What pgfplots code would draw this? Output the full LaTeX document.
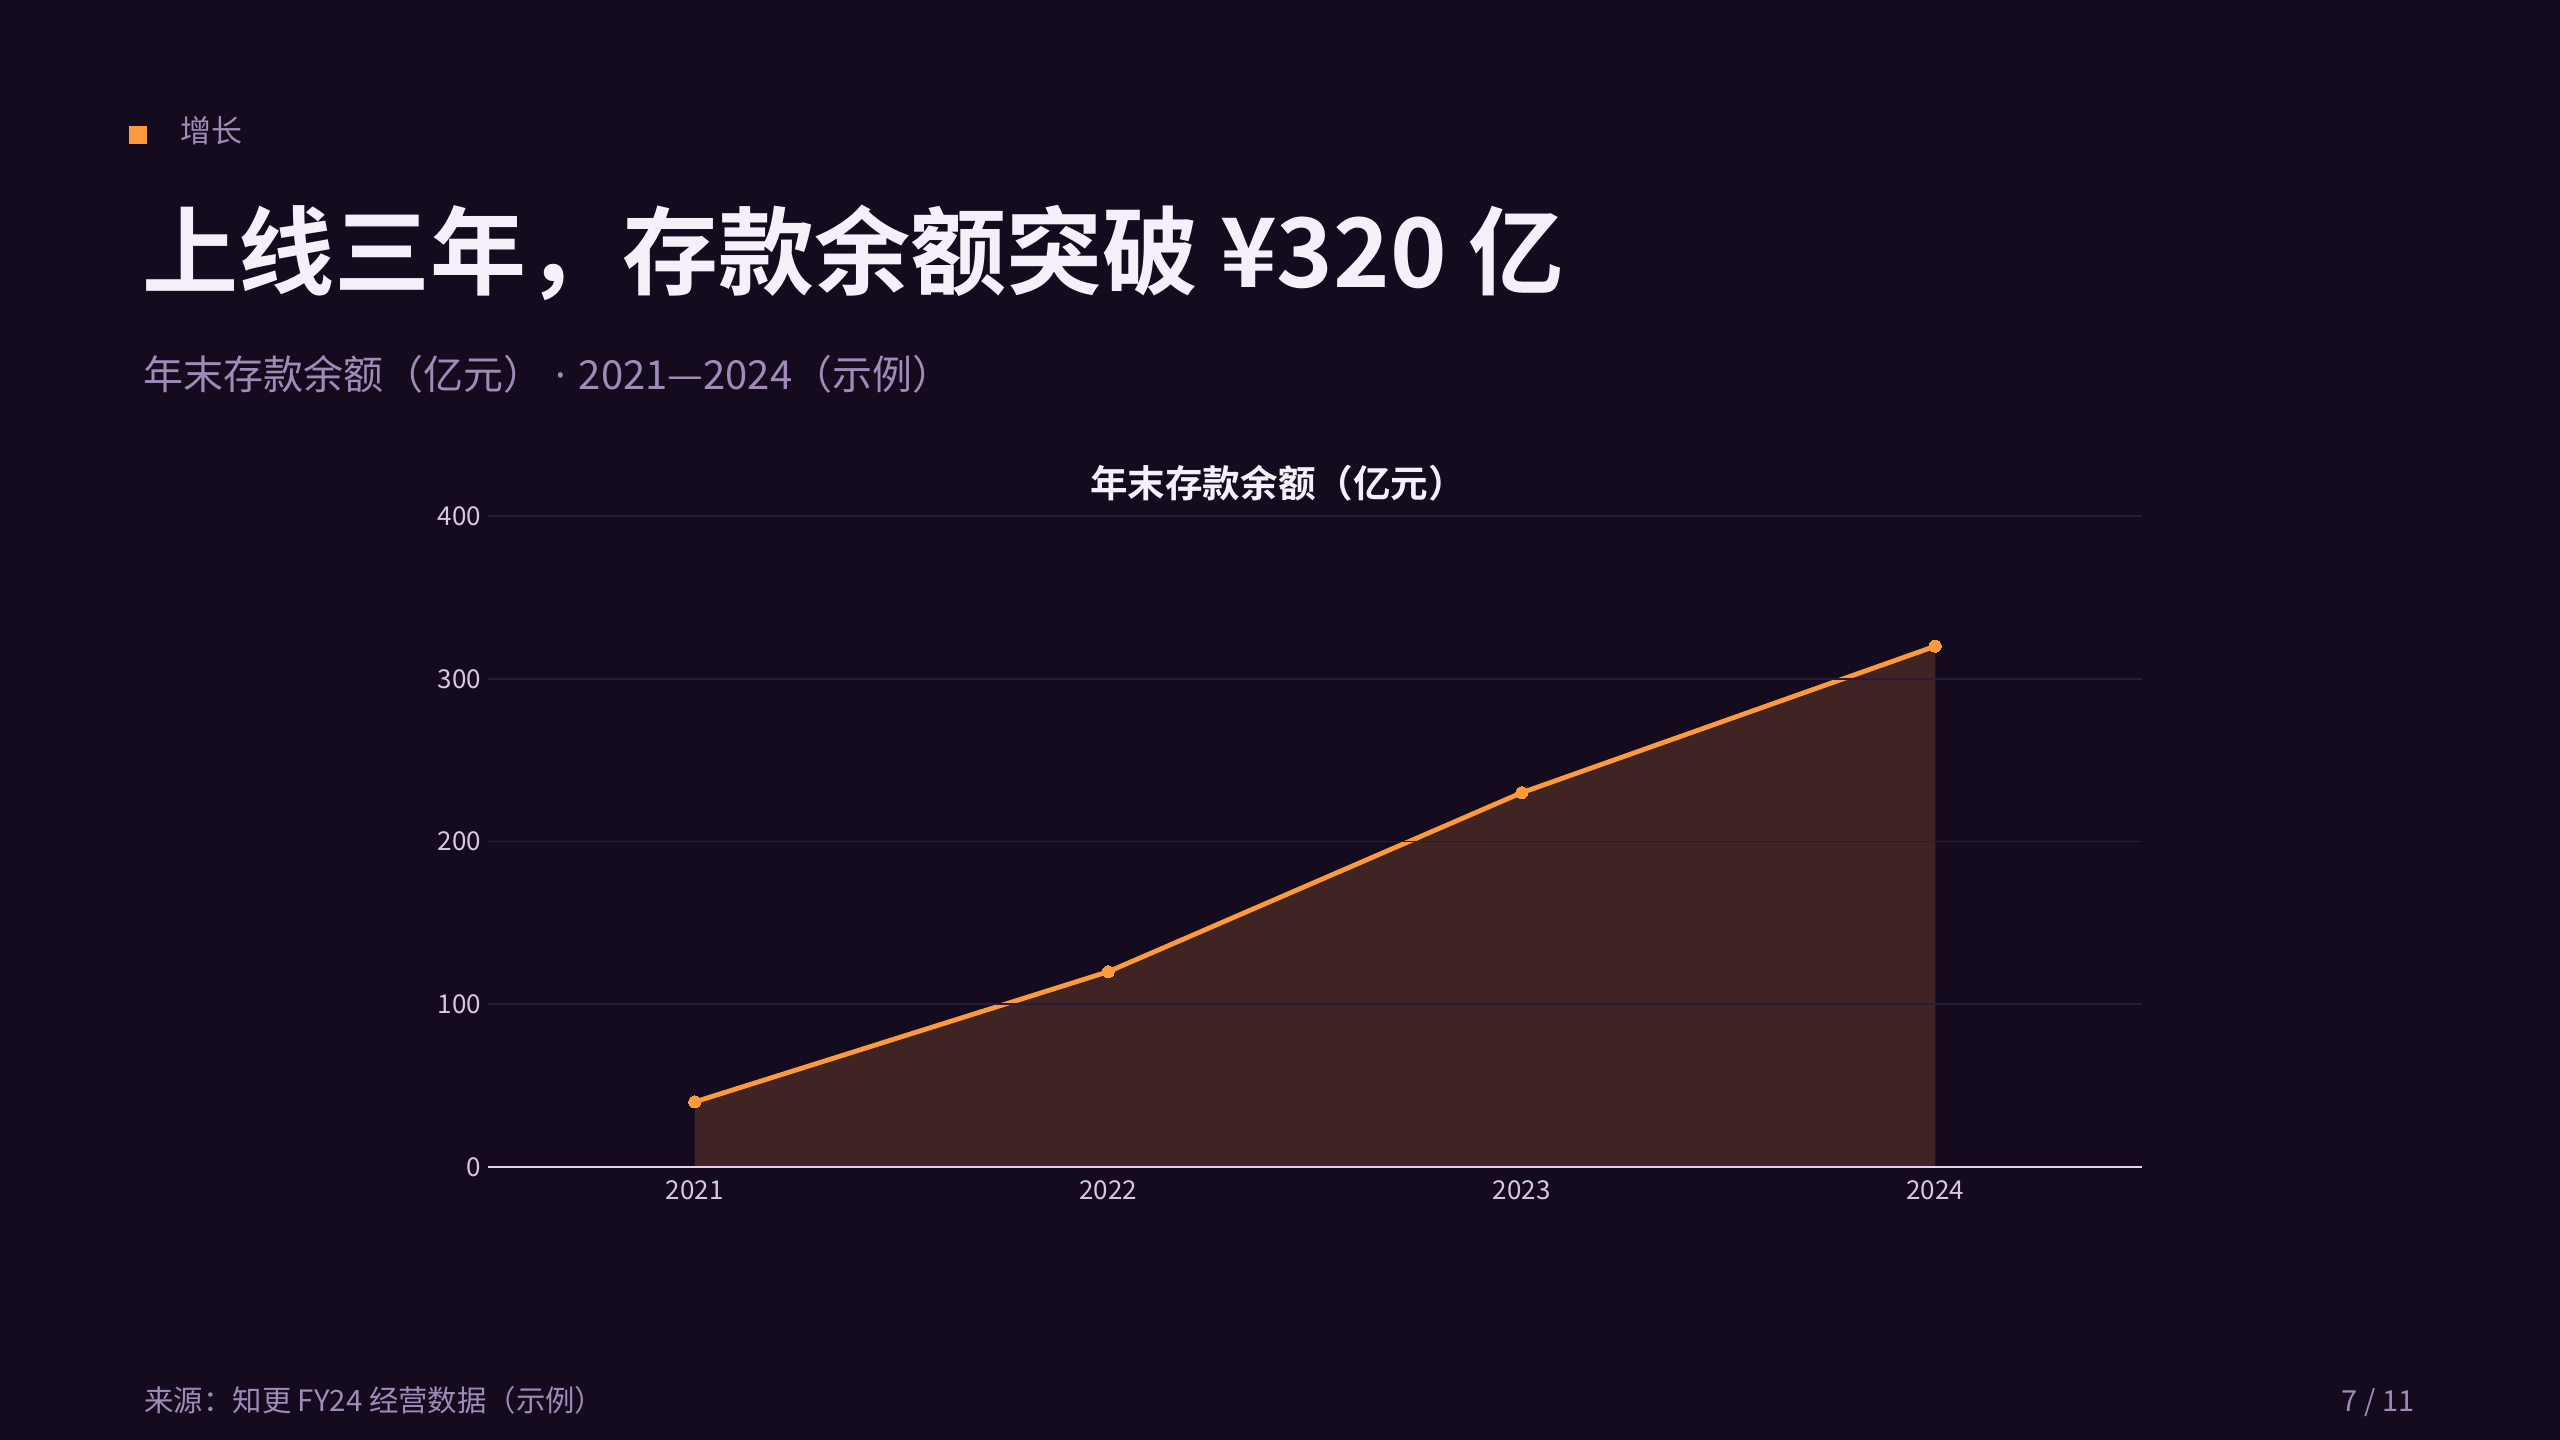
\documentclass[border=0pt]{standalone}
\usepackage{fontspec}
\setmainfont{Noto Sans CJK SC}[BoldFont={Noto Sans CJK SC Bold}]
\newfontfamily\latinfont{Noto Sans}
\usepackage{pgfplots}
\pgfplotsset{compat=1.18}
\definecolor{bg}{HTML}{150B1E}
\definecolor{accent}{HTML}{FF9A3C}
\definecolor{muted}{HTML}{A08AB8}
\definecolor{titlec}{HTML}{F6EEF8}
\definecolor{tickc}{HTML}{D9C6E3}
\definecolor{gridc}{HTML}{2A1A3C}
\definecolor{axisc}{HTML}{E6D0EE}
\begin{document}
\begin{tikzpicture}[x=1pt,y=1pt]
\fill[bg] (0,0) rectangle (1280,720);
\useasboundingbox (0,0) rectangle (1280,720);
\fill[accent] (64.5,648) rectangle (73.5,657);
\node[anchor=base west, inner sep=0, text=muted, font=\fontsize{15.5}{18}\selectfont] at (90,648.8) {增长};
\node[anchor=base west, inner sep=0, text=titlec, font=\fontsize{48}{56}\selectfont\bfseries] at (71,576) {上线三年，存款余额突破 ¥320 亿};
\node[anchor=base west, inner sep=0, text=muted, font=\fontsize{20}{24}\selectfont] at (71.5,525.4) {年末存款余额（亿元）{\latinfont\hspace{1pt} · \hspace{1pt}}2021—2024（示例）};
\node[anchor=base, inner sep=0, text=titlec, font=\fontsize{18.8}{22}\selectfont\bfseries] at (639,471.4) {年末存款余额（亿元）};
\node[anchor=base west, inner sep=0, text=muted, font=\fontsize{14.7}{17}\selectfont] at (72,14.1) {来源：知更 FY24 经营数据（示例）};
\node[anchor=base east, inner sep=0, text=muted, font=\fontsize{14.5}{17}\selectfont] at (1207.4,14.2) {7 / 11};
\begin{axis}[
  at={(244pt,136.5pt)}, anchor=south west,
  width=827pt, height=325.5pt, scale only axis,
  xmin=2020.5, xmax=2024.5, ymin=0, ymax=400,
  xtick={2021,2022,2023,2024}, ytick={0,100,200,300,400},
  /pgf/number format/assume math mode=true,
  /pgf/number format/1000 sep={},
  axis x line*=bottom, axis y line*=left,
  y axis line style={draw=none},
  x axis line style={draw=axisc, line width=1pt},
  major tick length=0pt,
  ymajorgrids, grid style={draw=gridc, line width=0.8pt},
  tick label style={font=\fontsize{13}{16}\selectfont, text=tickc},
  xticklabel style={yshift=-3.1pt},
  axis on top,
  clip=false,
]
\addplot[draw=none, fill=accent, fill opacity=0.18] coordinates {(2021,40) (2022,120) (2023,230) (2024,320)} \closedcycle;
\addplot[accent, line width=2.4pt, mark=*, mark size=3pt, mark options={fill=accent, draw=accent, line width=0pt}] coordinates {(2021,40) (2022,120) (2023,230) (2024,320)};
\end{axis}
\end{tikzpicture}
\end{document}
